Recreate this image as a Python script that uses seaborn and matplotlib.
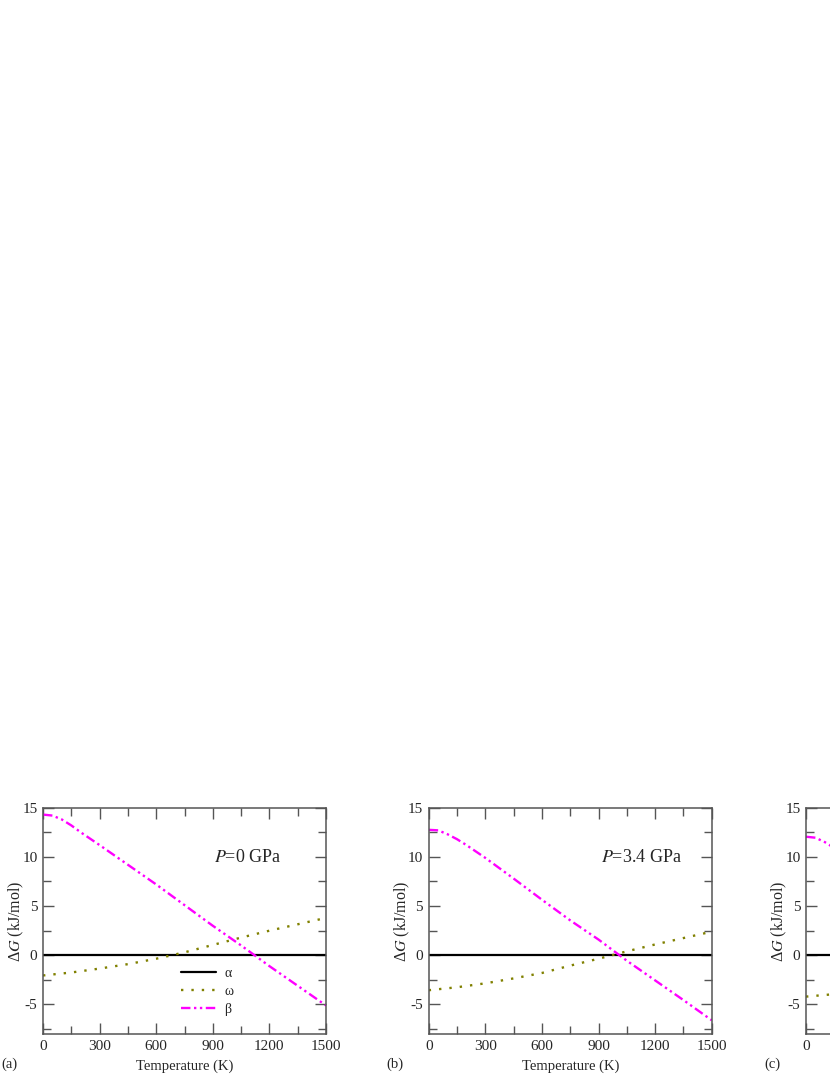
import matplotlib
matplotlib.use("Agg")
import matplotlib.pyplot as plt
from matplotlib.ticker import MultipleLocator
import seaborn as sns
import numpy as np

# temperature grids (K)
T_a = [0, 50, 100, 150, 200, 300, 450, 600, 750, 900, 1050, 1200, 1350, 1500]
beta_a = [14.3, 14.2, 13.8, 13.2, 12.5, 11.2, 9.2, 7.2, 5.1, 3.0, 1.0, -1.1, -3.1, -5.1]
T_w = [0, 150, 300, 450, 600, 750, 900, 1050, 1200, 1350, 1500]
omega_a = [-2.05, -1.75, -1.35, -0.9, -0.35, 0.3, 1.05, 1.8, 2.5, 3.15, 3.8]

beta_b = [12.75, 12.7, 12.3, 11.8, 11.2, 9.9, 7.8, 5.65, 3.55, 1.6, -0.55, -2.55, -4.55, -6.6]
omega_b = [-3.55, -3.25, -2.85, -2.35, -1.8, -1.05, -0.35, 0.4, 1.1, 1.75, 2.4]

beta_c = [12.05, 11.95, 11.5, 10.9, 10.3, 9.0, 6.9, 4.8, 2.7, 0.7, -1.4, -3.4, -5.4, -7.4]
omega_c = [-4.2, -3.95, -3.55, -3.05, -2.5, -1.8, -1.05, -0.3, 0.4, 1.05, 1.7]

x_ticks = [0, 300, 600, 900, 1200, 1500]
y_ticks = [-5, 0, 5, 10, 15]
panel_tags = ["(a)", "(b)", "(c)"]
pressures = ["0", "3.4", None]

sns.set_style("ticks")
plt.rcParams["font.family"] = ["Liberation Serif", "DejaVu Serif"]
plt.rcParams["mathtext.fontset"] = "stix"

fig = plt.figure(figsize=(8.3, 10.75), dpi=100)
W, H = 830, 1075
lefts = [43, 428.7, 806]
ax_w, ax_top, ax_bot = 283, 807.7, 1034

frame_col = "#555555"
beta_col = "#ff00ff"
omega_col = "#808000"

panels = [(beta_a, omega_a), (beta_b, omega_b), (beta_c, omega_c)]
for i, (beta, omega) in enumerate(panels):
    ax = fig.add_axes([lefts[i] / W, (H - ax_bot) / H, ax_w / W, (ax_bot - ax_top) / H])
    sns.lineplot(x=T_a, y=np.zeros(len(T_a)), ax=ax, color="black", lw=1.6, label="\u03b1")
    sns.lineplot(x=T_w, y=omega, ax=ax, color=omega_col, lw=1.7, linestyle=(0, (1, 3.4)), label="\u03c9")
    sns.lineplot(x=T_a, y=beta, ax=ax, color=beta_col, lw=1.7, linestyle=(0, (4, 1.5, 1, 1.5, 1, 1.5)), label="\u03b2")

    ax.set_xlim(0, 1500)
    ax.set_ylim(-8, 15)
    ax.set_xticks(x_ticks)
    ax.set_yticks(y_ticks)
    ax.xaxis.set_minor_locator(MultipleLocator(150))
    ax.yaxis.set_minor_locator(MultipleLocator(2.5))
    ax.tick_params(which="both", direction="in", top=True, right=True,
                   color=frame_col, labelsize=11, width=1)
    ax.tick_params(which="major", length=8, pad=4)
    ax.tick_params(which="minor", length=6)
    ax.set_yticklabels([str(v) for v in y_ticks])
    for s in ax.spines.values():
        s.set_color(frame_col)
        s.set_linewidth(1.1)
    ax.set_ylabel("\u0394$G$ (kJ/mol)", fontsize=11.5, labelpad=-3)

    if i < 2:
        ax.set_xlabel("Temperature (K)", fontsize=10.5, labelpad=5)
    else:
        # panel (c) is cut by the page edge: only its first label shows
        ax.set_xticklabels(["0"] + [""] * (len(x_ticks) - 1))

    if i == 0:
        ax.legend(loc="upper left", bbox_to_anchor=(0.445, 0.35), frameon=False,
                  fontsize=10, handlelength=2.5, handletextpad=0.6, labelspacing=0.35)
    else:
        ax.get_legend().remove()

    if pressures[i] is not None:
        ax.text(0.605 if i == 0 else 0.61, 0.78, "$P$=" + pressures[i] + " GPa",
                transform=ax.transAxes, fontsize=13, ha="left", va="center")

    fig.text((lefts[i] - 34) / W, (H - 1064) / H, panel_tags[i], fontsize=10.5,
             ha="center", va="center")

fig.savefig("out.png", dpi=100)
